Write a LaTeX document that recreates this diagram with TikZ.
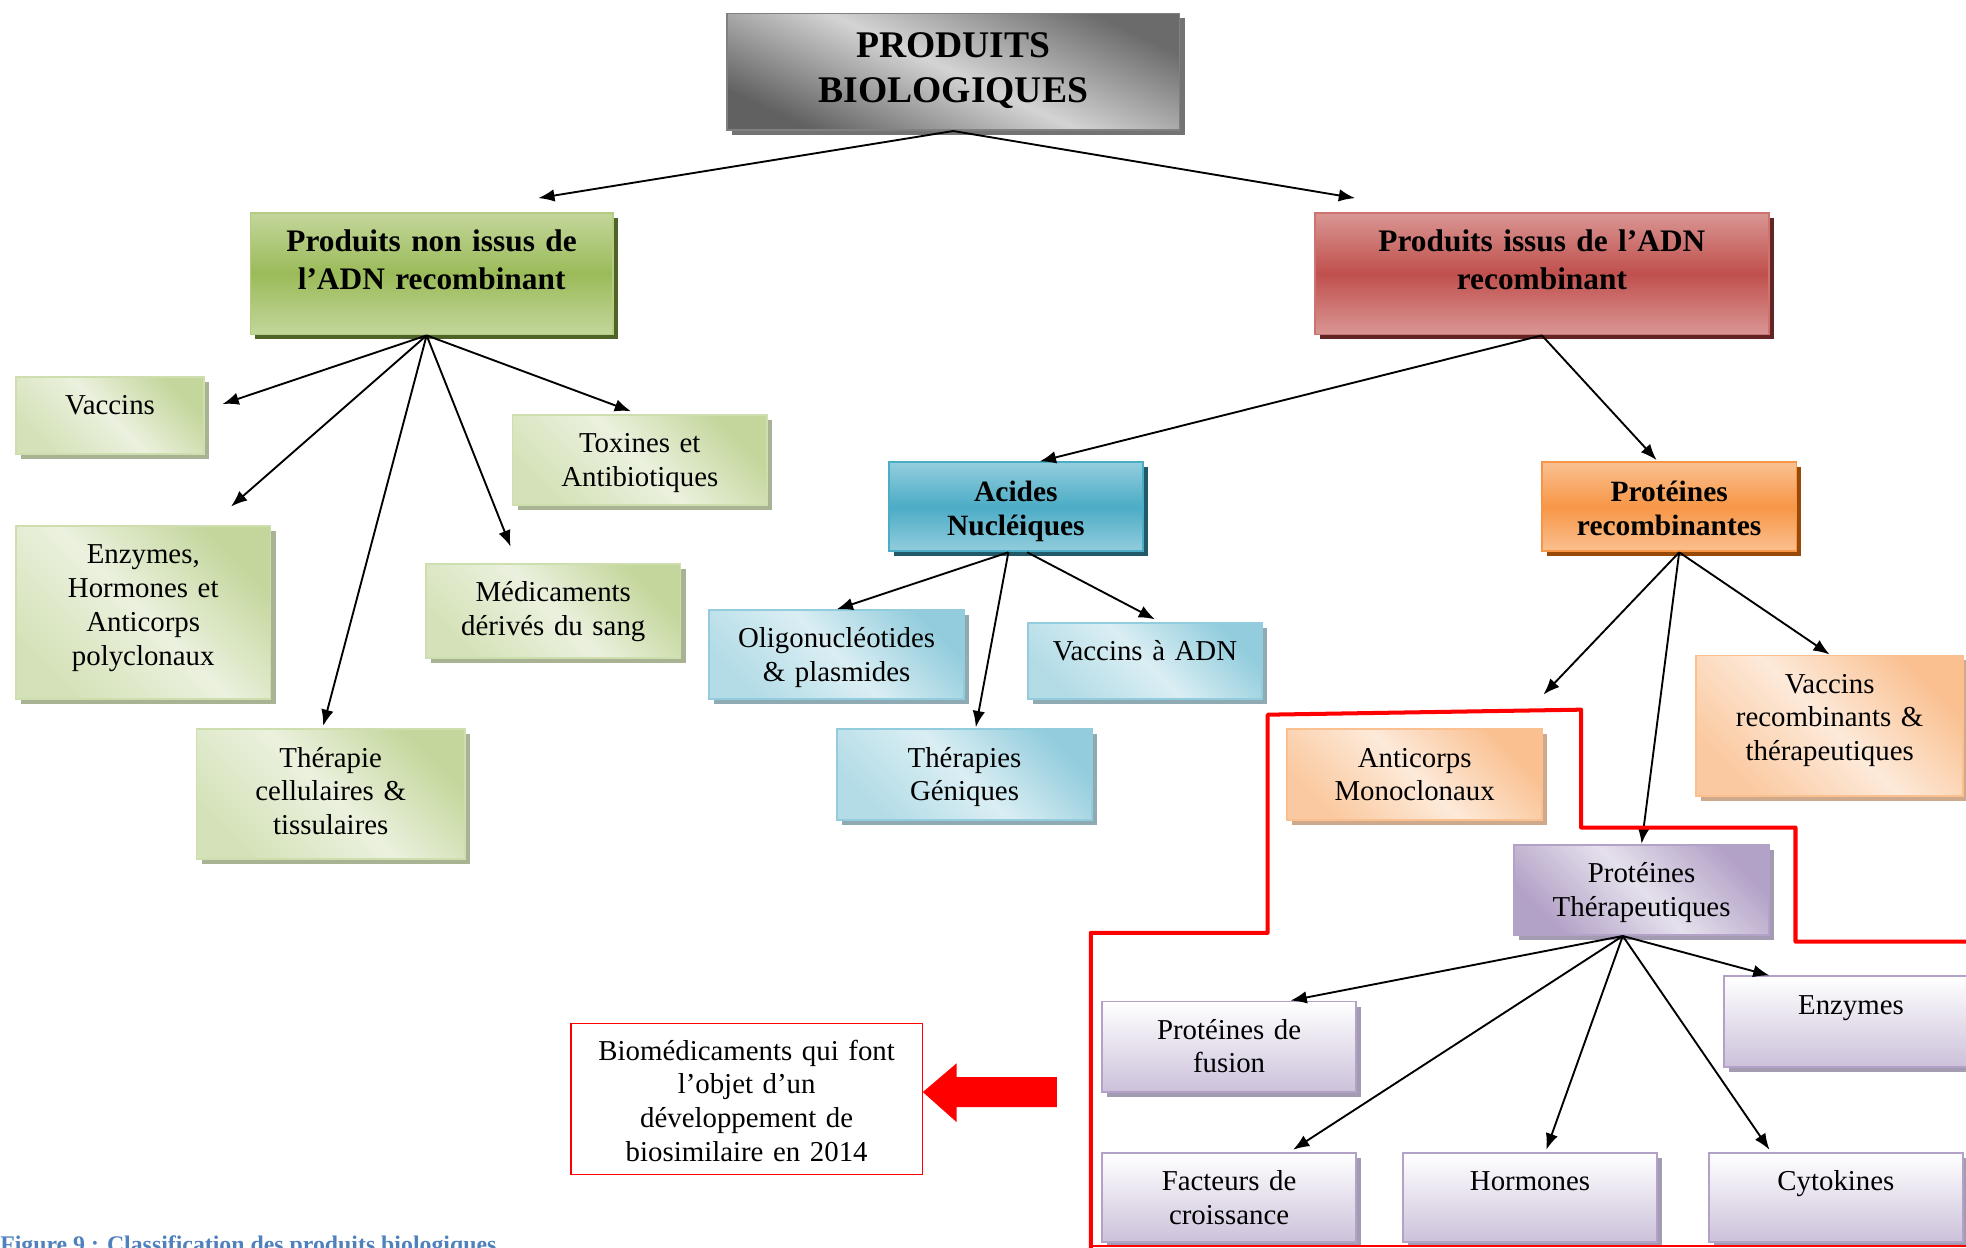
\documentclass[tikz,border=0pt]{standalone}
\usepackage{fontspec}
\setmainfont{Liberation Serif}
\usetikzlibrary{arrows.meta}
\usetikzlibrary{shadows}

\definecolor{grnlight}{HTML}{C3D69B}
\definecolor{grndark}{HTML}{9BBB59}
\definecolor{grnshadow}{HTML}{4F6228}
\definecolor{grnleafmid}{HTML}{EBF1DE}
\definecolor{grnleafshadow}{HTML}{A8B393}
\definecolor{redlight}{HTML}{D99694}
\definecolor{reddark}{HTML}{C0504D}
\definecolor{redshadow}{HTML}{632523}
\definecolor{bluelight}{HTML}{93CDDD}
\definecolor{bluedark}{HTML}{4BACC6}
\definecolor{blueshadow}{HTML}{215968}
\definecolor{blueleafmid}{HTML}{DAEEF3}
\definecolor{blueleafshadow}{HTML}{8FAAB2}
\definecolor{orglight}{HTML}{FAC090}
\definecolor{orgdark}{HTML}{F79646}
\definecolor{orgshadow}{HTML}{984807}
\definecolor{orgleafmid}{HTML}{FDEADA}
\definecolor{orgleafshadow}{HTML}{CFA98C}
\definecolor{lilac}{HTML}{CCC1DA}
\definecolor{lilacdark}{HTML}{B3A2C7}
\definecolor{lilacmid}{HTML}{E5E0EC}
\definecolor{lilacshadow}{HTML}{A39BB2}
\definecolor{capblue}{HTML}{4F81BD}

\tikzset{
    box/.style={anchor=north west, inner sep=0pt, align=center, line width=1.5pt,
        font=\fontsize{23}{27}\selectfont, text height=30pt},
    boxsize/.style 2 args={text width=#1pt, text depth=#2pt},
    headfont/.style={font=\fontsize{25}{30}\selectfont\bfseries, text height=31pt},
    subfont/.style={font=\fontsize{23.5}{27}\selectfont\bfseries, text height=31pt},
    titlebox/.style={box, draw=black!50, font=\fontsize{30}{36}\selectfont\bfseries, text height=35pt,
        top color=black!58, bottom color=black!62, middle color=black!17, shading angle=-25,
        drop shadow={shadow xshift=4pt, shadow yshift=-4pt, fill=black!55, opacity=1}},
    greenhead/.style={box, headfont, draw=grndark!75!white,
        top color=grnlight, bottom color=grnlight, middle color=grndark,
        drop shadow={shadow xshift=4pt, shadow yshift=-4pt, fill=grnshadow, opacity=1}},
    redhead/.style={box, headfont, draw=reddark!80!white,
        top color=redlight, bottom color=redlight, middle color=reddark,
        drop shadow={shadow xshift=4pt, shadow yshift=-4pt, fill=redshadow, opacity=1}},
    bluehead/.style={box, subfont, draw=bluedark,
        top color=bluelight, bottom color=bluelight, middle color=bluedark,
        drop shadow={shadow xshift=4pt, shadow yshift=-4pt, fill=blueshadow, opacity=1}},
    orangehead/.style={box, subfont, draw=orgdark,
        top color=orglight, bottom color=orglight, middle color=orgdark,
        drop shadow={shadow xshift=4pt, shadow yshift=-4pt, fill=orgshadow, opacity=1}},
    greenleaf/.style={box, draw=grnlight!80!white,
        top color=grnlight, bottom color=grnlight!70!white, middle color=grnleafmid, shading angle=-45,
        drop shadow={shadow xshift=4pt, shadow yshift=-4pt, fill=grnleafshadow, opacity=1}},
    blueleaf/.style={box, draw=bluelight,
        top color=bluelight, bottom color=bluelight!70!white, middle color=blueleafmid, shading angle=-45,
        drop shadow={shadow xshift=4pt, shadow yshift=-4pt, fill=blueleafshadow, opacity=1}},
    orangeleaf/.style={box, draw=orglight,
        top color=orglight, bottom color=orglight!85!white, middle color=orgleafmid, shading angle=-45,
        drop shadow={shadow xshift=4pt, shadow yshift=-4pt, fill=orgleafshadow, opacity=1}},
    purpleleaf/.style={box, draw=lilacdark,
        top color=white, bottom color=lilac,
        drop shadow={shadow xshift=4pt, shadow yshift=-4pt, fill=lilacshadow, opacity=1}},
    purplemid/.style={box, draw=lilacdark,
        top color=lilacdark, bottom color=lilacdark, middle color=lilacmid, shading angle=-45,
        drop shadow={shadow xshift=4pt, shadow yshift=-4pt, fill=lilacshadow, opacity=1}},
    arr/.style={-{Latex[length=13pt,width=10pt]}, line width=1.5pt},
}

\begin{document}
\begin{tikzpicture}[x=1pt,y=-1pt]
\useasboundingbox (0,0) rectangle (1568,995);

\node[titlebox, boxsize={361}{58}] (produits) at (579,10) {PRODUITS\\BIOLOGIQUES};

\node[greenhead, boxsize={289}{66}] (nonadn) at (199,169) {Produits non issus de\\l’ADN recombinant};
\node[redhead, boxsize={362}{66}] (adnrec) at (1048,169) {Produits issus de l’ADN\\recombinant};

\node[greenleaf, boxsize={150}{31}] (vaccins) at (12,300) {Vaccins};
\node[greenleaf, boxsize={203}{42}] (toxines) at (408,330) {Toxines et\\Antibiotiques};
\node[greenleaf, boxsize={203}{108}] (enzymes) at (12,419) {Enzymes,\\Hormones et\\Anticorps\\polyclonaux};
\node[greenleaf, boxsize={203}{45}] (medic) at (339,449) {Médicaments\\dérivés du sang};
\node[greenleaf, boxsize={214}{73}] (therapie) at (156,581) {Thérapie\\cellulaires \&\\tissulaires};

\node[bluehead, boxsize={203}{40}] (acides) at (708,368) {Acides\\Nucléiques};
\node[orangehead, boxsize={203}{40}] (protrec) at (1229,368) {Protéines\\recombinantes};

\node[blueleaf, boxsize={203}{41}] (oligo) at (565,486) {Oligonucléotides\\\& plasmides};
\node[blueleaf, boxsize={187}{31}] (vacadn) at (819,496) {Vaccins à ADN};
\node[blueleaf, boxsize={203}{42}] (geniques) at (667,581) {Thérapies\\Géniques};

\node[orangeleaf, boxsize={213}{82}] (vaccrec) at (1352,522) {Vaccins\\recombinants \&\\thérapeutiques};
\node[orangeleaf, boxsize={203}{42}] (anticorps) at (1026,581) {Anticorps\\Monoclonaux};
\coordinate (anticorpsend) at (1231,554);

\node[purplemid, boxsize={203}{42}] (protther) at (1207,673) {Protéines\\Thérapeutiques};
\node[purpleleaf, boxsize={203}{42}] (fusion) at (878,798) {Protéines de\\fusion};
\node[purpleleaf, boxsize={203}{42}] (enzymesp) at (1374,778) {Enzymes};
\node[purpleleaf, boxsize={203}{41}] (facteurs) at (878,919) {Facteurs de\\croissance};
\node[purpleleaf, boxsize={203}{41}] (hormones) at (1118,919) {Hormones};
\node[purpleleaf, boxsize={203}{41}] (cytokines) at (1362,919) {Cytokines};

\node[box, draw=red, line width=1pt, fill=white, boxsize={280}{91}, text height=29pt] (biomed) at (455,816) {Biomédicaments qui font\\l’objet d’un\\développement de\\biosimilaire en 2014};

\draw[arr] (produits.south) -- ([shift={(85,-11)}]nonadn.north);
\draw[arr] (produits.south) -- ([shift={(-149,-11)}]adnrec.north);

\draw[arr] ([xshift=-4pt]nonadn.south) -- ([shift={(14,-9)}]vaccins.east);
\draw[arr] ([xshift=-4pt]nonadn.south) -- ([shift={(70,-15)}]enzymes.north);
\draw[arr] ([xshift=-4pt]nonadn.south) -- ([shift={(-6,-2)}]therapie.north);
\draw[arr] ([xshift=-4pt]nonadn.south) -- ([shift={(-34,-13)}]medic.north);
\draw[arr] ([xshift=-4pt]nonadn.south) -- ([shift={(-7,-2)}]toxines.north);

\draw[arr] (adnrec.south) -- ([xshift=19pt]acides.north);
\draw[arr] (adnrec.south) -- ([shift={(-10,-1)}]protrec.north);

\draw[arr] ([xshift=-6pt]acides.south) -- (oligo.north);
\draw[arr] ([xshift=-6pt]acides.south) -- ([shift={(9,-1)}]geniques.north);
\draw[arr] ([xshift=9pt]acides.south) -- ([shift={(8,-2)}]vacadn.north);

\draw[arr] ([xshift=8pt]protrec.south) -- (anticorpsend);
\draw[arr] ([xshift=8pt]protrec.south) -- (protther.north);
\draw[arr] ([xshift=8pt]protrec.south) -- (vaccrec.north);

\draw[arr] ([xshift=-15pt]protther.south) -- ([xshift=49pt]fusion.north);
\draw[arr] ([xshift=-15pt]protther.south) -- ([shift={(51,-2)}]facteurs.north);
\draw[arr] ([xshift=-15pt]protther.south) -- ([shift={(13,-2)}]hormones.north);
\draw[arr] ([xshift=-15pt]protther.south) -- ([shift={(-53,-2)}]cytokines.north);
\draw[arr] ([xshift=-15pt]protther.south) -- ([xshift=-65pt]enzymesp.north);

\draw[red, line width=3.2pt, line join=round] (870,1000) -- (870,744) -- (1011,744) -- (1011,570) -- (1261,566) -- (1261,660) -- (1432,660) -- (1432,751) -- (1580,751);
\draw[red, line width=1.5pt] (870,994) -- (1580,994);
\fill[red] (843,859) -- (763,859) -- (763,848) -- (736,871) -- (763,895) -- (763,883) -- (843,883) -- cycle;

\node[anchor=base west, inner sep=0pt, text=capblue, font=\fontsize{19}{22}\selectfont\bfseries] (caption) at (0,999) {Figure 9 : Classification des produits biologiques};
\end{tikzpicture}
\end{document}
